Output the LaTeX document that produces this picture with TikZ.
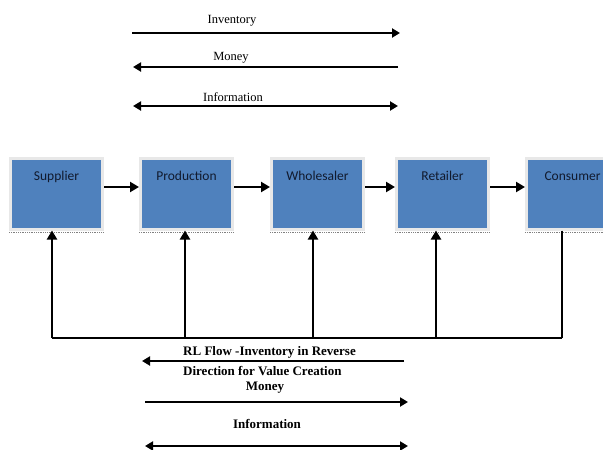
\documentclass[tikz,border=0pt]{standalone}
\usepackage{fontspec}
\setmainfont{Liberation Serif}
\newfontfamily\boxfont{Carlito}
\usepackage{xcolor}
\usetikzlibrary{positioning,calc,arrows.meta}

\definecolor{stageblue}{HTML}{4F81BD}
\definecolor{stagetext}{HTML}{111A2E}

\tikzset{
    stage/.style={draw=black!9, line width=3pt, fill=stageblue, inner sep=0pt,
        minimum width=92pt, text height=22pt, text depth=49pt,
        font=\boxfont\fontsize{13.5}{15}\selectfont, text=stagetext},
    flow/.style={line width=2.8pt, -{Triangle[length=9pt,width=10pt]}},
    topflow/.style={line width=2.4pt},
    toptip/.tip={Triangle[length=8pt,width=9pt]},
    toplabel/.style={font=\fontsize{12.5}{14}\selectfont, inner sep=0pt},
    botlabel/.style={font=\bfseries\fontsize{13}{15}\selectfont, inner sep=0pt}
}

\begin{document}
\begin{tikzpicture}[x=1pt, y=-1pt]
    \useasboundingbox (0,0) rectangle (603,450);

    % Forward flows
    \coordinate (invL) at (132,33);
    \coordinate (invR) at (400,33);
    \draw[topflow, -toptip] (invL) -- (invR);
    \node[toplabel] (invlab) at (232,21) {Inventory};

    \coordinate (monL) at (133,67);
    \coordinate (monR) at (398,67);
    \draw[topflow, -toptip] (monR) -- (monL);
    \node[toplabel] (monlab) at (231,58) {Money};

    \coordinate (infL) at (133,106);
    \coordinate (infR) at (398,106);
    \draw[topflow, toptip-toptip] (infL) -- (infR);
    \node[toplabel] (inflab) at (233,97) {Information};

    % Stages
    \node[stage] (sup) at (56.5,193.5) {Supplier};
    \node[stage] (pro) at (186.5,193.5) {Production};
    \node[stage] (who) at (317.5,193.5) {Wholesaler};
    \node[stage] (ret) at (442.5,193.5) {Retailer};
    \node[stage] (con) at (572.5,193.5) {Consumer};
    \foreach \n in {sup,pro,who,ret,con}
        \draw[densely dotted, black!50, line width=0.8pt]
            ([yshift=-2pt]\n.south west) -- ([yshift=-2pt]\n.south east);

    \draw[flow] ([yshift=6.5pt]sup.east) -- ([yshift=6.5pt]pro.west);
    \draw[flow] ([yshift=6.5pt]pro.east) -- ([yshift=6.5pt]who.west);
    \draw[flow] ([yshift=6.5pt]who.east) -- ([yshift=6.5pt]ret.west);
    \draw[flow] ([yshift=6.5pt]ret.east) -- ([yshift=6.5pt]con.west);

    % Reverse flow
    \coordinate (rl) at (0,338);
    \draw[line width=1.8pt] ([xshift=-10.5pt]con.south |- rl) -- ([xshift=-4.5pt]sup.south |- rl);
    \draw[line width=1.2pt] ([xshift=-10.5pt]con.south) -- ([xshift=-10.5pt]con.south |- rl);
    \draw[flow] ([xshift=-4.5pt]sup.south |- rl) -- ([xshift=-4.5pt]sup.south);
    \draw[flow] ([xshift=-1.5pt]pro.south |- rl) -- ([xshift=-1.5pt]pro.south);
    \draw[flow] ([xshift=-4.5pt]who.south |- rl) -- ([xshift=-4.5pt]who.south);
    \draw[flow] ([xshift=-6.5pt]ret.south |- rl) -- ([xshift=-6.5pt]ret.south);

    \coordinate (rlL) at (142,361);
    \coordinate (rlR) at (404,361);
    \draw[topflow, -toptip] (rlR) -- (rlL);
    \node[botlabel, anchor=west] (rllab) at (183,352) {RL Flow -Inventory in Reverse};
    \node[botlabel, anchor=west] (rllab2) at (183,371) {Direction for Value Creation};
    \node[botlabel] (bmonlab) at (265,388) {Money};

    \coordinate (bmonL) at (145,402);
    \coordinate (bmonR) at (408,402);
    \draw[topflow, -toptip] (bmonL) -- (bmonR);
    \node[botlabel] (binflab) at (267,424) {Information};

    \coordinate (binfL) at (145,446);
    \coordinate (binfR) at (408,446);
    \draw[topflow, toptip-toptip] (binfL) -- (binfR);
\end{tikzpicture}
\end{document}
